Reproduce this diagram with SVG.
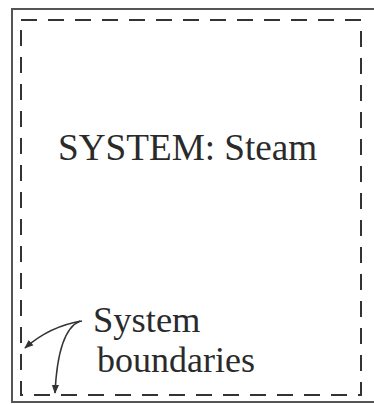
<svg xmlns="http://www.w3.org/2000/svg" width="374" height="404" viewBox="0 0 374 404">
<style>
.frame{fill:none;stroke:#555;stroke-width:2}
.bound{fill:none;stroke:#333;stroke-width:2;stroke-dasharray:16 11}
.lbl{font-family:"Liberation Serif","Times New Roman",serif;fill:#2a2a2a}
.conn{fill:none;stroke:#333;stroke-width:1.5}
</style>
<defs>
<marker id="ah" viewBox="0 0 10 10" refX="9" refY="5" markerWidth="9" markerHeight="9" orient="auto" markerUnits="userSpaceOnUse">
<path d="M0,1 L10,5 L0,9 Z" fill="#333"/>
</marker>
</defs>
<rect width="374" height="404" fill="#fff"/>
<g id="frame">
<path class="frame" d="M380,9 H12 V402 H380"/>
</g>
<g id="system">
<path class="bound" d="M21,20 H361 V395 H21 Z"/>
<text class="lbl" x="58" y="160" font-size="37.2">SYSTEM: Steam</text>
</g>
<g id="label">
<text class="lbl" x="93" y="332" font-size="36.5">System</text>
<text class="lbl" x="97" y="372" font-size="36">boundaries</text>
</g>
<g id="connectors">
<path class="conn" d="M82,321 Q50,326 25,348" marker-end="url(#ah)"/>
<path class="conn" d="M80,321 Q58,330 55,393" marker-end="url(#ah)"/>
</g>
</svg>
